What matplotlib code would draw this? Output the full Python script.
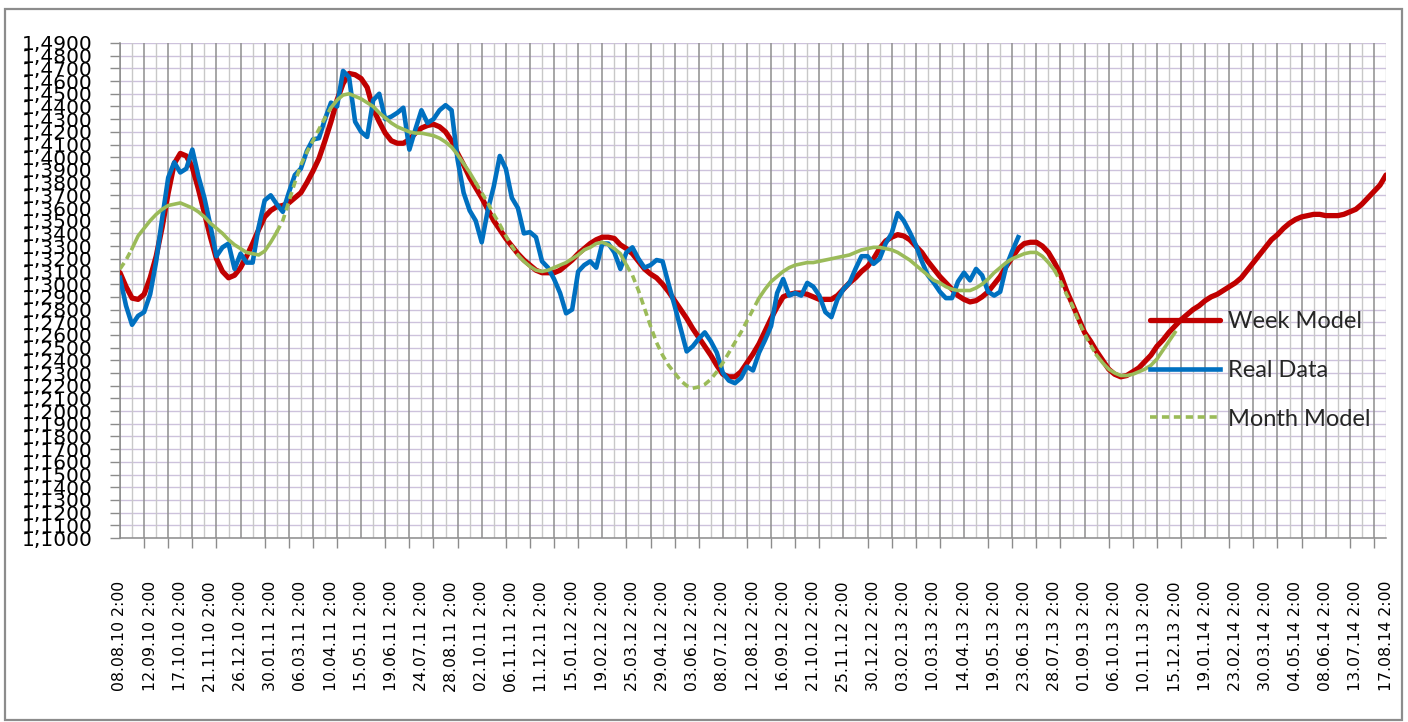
import matplotlib
matplotlib.use("Agg")
import matplotlib.pyplot as plt
from matplotlib.patches import Rectangle
from matplotlib.ticker import FixedLocator, FuncFormatter
import numpy as np
import pandas as pd

# weekly categories: 08.08.10 2:00 ... 17.08.14 2:00
dates = pd.date_range("2010-08-08 02:00", periods=211, freq="7D")

week_model = [
    1.309, 1.298, 1.289, 1.288, 1.292, 1.305, 1.322, 1.345, 1.372, 1.395,
    1.403, 1.401, 1.392, 1.375, 1.356, 1.337, 1.320, 1.310, 1.305, 1.307,
    1.313, 1.322, 1.332, 1.343, 1.353, 1.358, 1.361, 1.362, 1.364, 1.368,
    1.372, 1.380, 1.389, 1.399, 1.413, 1.428, 1.445, 1.458, 1.466, 1.465,
    1.462, 1.455, 1.438, 1.428, 1.419, 1.413, 1.411, 1.411, 1.414, 1.419,
    1.423, 1.425, 1.426, 1.424, 1.420, 1.413, 1.403, 1.394, 1.384, 1.376,
    1.368, 1.359, 1.350, 1.343, 1.336, 1.330, 1.324, 1.319, 1.315, 1.311,
    1.309, 1.309, 1.309, 1.311, 1.315, 1.319, 1.324, 1.328, 1.332, 1.335,
    1.337, 1.337, 1.336, 1.331, 1.328, 1.324, 1.318, 1.312, 1.308, 1.305,
    1.300, 1.294, 1.287, 1.280, 1.273, 1.265, 1.258, 1.251, 1.244, 1.236,
    1.229, 1.227, 1.227, 1.231, 1.238, 1.245, 1.253, 1.263, 1.273, 1.282,
    1.290, 1.292, 1.293, 1.293, 1.292, 1.290, 1.288, 1.288, 1.288, 1.291,
    1.296, 1.301, 1.305, 1.310, 1.314, 1.320, 1.328, 1.334, 1.337, 1.339,
    1.338, 1.335, 1.330, 1.325, 1.318, 1.312, 1.306, 1.301, 1.296, 1.291,
    1.288, 1.286, 1.287, 1.290, 1.294, 1.300, 1.306, 1.314, 1.321, 1.328,
    1.332, 1.333, 1.333, 1.330, 1.325, 1.317, 1.308, 1.295, 1.284, 1.273,
    1.262, 1.255, 1.247, 1.240, 1.233, 1.229, 1.227, 1.228, 1.231, 1.234,
    1.239, 1.244, 1.251, 1.256, 1.262, 1.267, 1.272, 1.276, 1.280, 1.283,
    1.287, 1.290, 1.292, 1.295, 1.298, 1.301, 1.305, 1.311, 1.317, 1.323,
    1.329, 1.335, 1.339, 1.344, 1.348, 1.351, 1.353, 1.354, 1.355, 1.355,
    1.354, 1.354, 1.354, 1.355, 1.357, 1.359, 1.363, 1.368, 1.373, 1.378,
    1.386,
]

real_data = [
    1.305, 1.283, 1.268, 1.275, 1.278, 1.292, 1.318, 1.352, 1.384, 1.396,
    1.388, 1.391, 1.406, 1.385, 1.368, 1.346, 1.322, 1.329, 1.332, 1.312,
    1.324, 1.317, 1.317, 1.345, 1.366, 1.370, 1.363, 1.357, 1.372, 1.386,
    1.391, 1.405, 1.414, 1.415, 1.430, 1.443, 1.440, 1.468, 1.463, 1.428,
    1.420, 1.416, 1.445, 1.450, 1.430, 1.432, 1.435, 1.439, 1.406, 1.422,
    1.437, 1.427, 1.430, 1.437, 1.441, 1.437, 1.398, 1.372, 1.358, 1.350,
    1.333, 1.358, 1.377, 1.401, 1.391, 1.368, 1.360, 1.340, 1.341, 1.337,
    1.318, 1.313, 1.304, 1.293, 1.277, 1.280, 1.310, 1.315, 1.318, 1.313,
    1.332, 1.332, 1.325, 1.312, 1.325, 1.329, 1.320, 1.313, 1.315, 1.319,
    1.318, 1.300, 1.283, 1.265, 1.247, 1.251, 1.257, 1.262, 1.255, 1.246,
    1.230, 1.224, 1.222, 1.226, 1.235, 1.232, 1.246, 1.256, 1.267, 1.293,
    1.304, 1.291, 1.293, 1.291, 1.301, 1.298, 1.291, 1.278, 1.274, 1.288,
    1.296, 1.301, 1.312, 1.322, 1.322, 1.316, 1.320, 1.332, 1.340, 1.356,
    1.350, 1.341, 1.331, 1.318, 1.307, 1.301, 1.294, 1.289, 1.289, 1.302,
    1.309, 1.303, 1.312, 1.307, 1.294, 1.291, 1.294, 1.314, 1.326, 1.337,
]

month_model = [
    1.312, 1.319, 1.328, 1.338, 1.344, 1.350, 1.355, 1.359, 1.362, 1.363,
    1.364, 1.362, 1.360, 1.357, 1.353, 1.348, 1.344, 1.340, 1.335, 1.331,
    1.328, 1.325, 1.324, 1.323, 1.326, 1.333, 1.341, 1.350, 1.365, 1.380,
    1.394, 1.404, 1.413, 1.422, 1.431, 1.439, 1.445, 1.449, 1.450, 1.448,
    1.446, 1.443, 1.440, 1.435, 1.431, 1.427, 1.424, 1.422, 1.420, 1.419,
    1.419, 1.418, 1.417, 1.415, 1.412, 1.408, 1.402, 1.395, 1.388, 1.380,
    1.372, 1.364, 1.355, 1.347, 1.338, 1.330, 1.323, 1.318, 1.314, 1.311,
    1.310, 1.311, 1.313, 1.315, 1.317, 1.320, 1.323, 1.327, 1.329, 1.332,
    1.333, 1.331, 1.328, 1.324, 1.315, 1.307, 1.295, 1.281, 1.267, 1.254,
    1.244, 1.236, 1.230, 1.224, 1.220, 1.218, 1.219, 1.221, 1.225, 1.231,
    1.238, 1.246, 1.254, 1.262, 1.271, 1.280, 1.289, 1.296, 1.302, 1.306,
    1.310, 1.313, 1.315, 1.316, 1.317, 1.317, 1.318, 1.319, 1.320, 1.321,
    1.322, 1.323, 1.325, 1.327, 1.328, 1.329, 1.329, 1.328, 1.327, 1.325,
    1.322, 1.319, 1.315, 1.311, 1.307, 1.303, 1.301, 1.298, 1.296, 1.295,
    1.295, 1.295, 1.297, 1.300, 1.304, 1.309, 1.313, 1.317, 1.320, 1.322,
    1.324, 1.325, 1.325, 1.322, 1.317, 1.311, 1.302, 1.292, 1.283, 1.271,
    1.261, 1.252, 1.244, 1.238, 1.233, 1.230, 1.228, 1.228, 1.229, 1.231,
    1.233, 1.236, 1.241, 1.248, 1.255, 1.262,
]

# stretches of the month model drawn dashed
dashed_parts = [(0, 2), (26, 35), (59, 66), (84, 106), (155, 162)]

labels = [d.strftime("%d.%m.%y ") + f"{d.hour}:{d.minute:02d}" for d in dates]

fig = plt.figure(figsize=(14.08, 7.22), dpi=100)
fig.patches.append(Rectangle((5 / 1408, 2 / 722), 1397 / 1408, 711 / 722,
                             transform=fig.transFigure, fill=False,
                             edgecolor="#8c8c8c", linewidth=1.6))
ax = fig.add_axes([120 / 1408, 184 / 722, 1266 / 1408, 495 / 722])

n = len(dates)
x = np.arange(n)

# grid: lavender horizontals, gray verticals
for v in np.arange(1.10, 1.4901, 0.01):
    ax.axhline(v, color="#cdc2dc", lw=1.0, zorder=0)
for k in range(2, n, 4):
    ax.axvline(k, color="#c8c8c8", lw=1.0, zorder=0)
for k in range(0, n, 4):
    ax.axvline(k, color="#8e8e8e", lw=1.1, zorder=0)

ax.plot(x, week_model, color="#c00000", lw=3.8, label="Week Model",
        solid_capstyle="round", solid_joinstyle="round", zorder=3)
ax.plot(np.arange(len(real_data)), real_data, color="#0070c0", lw=3.3,
        label="Real Data", solid_joinstyle="round", zorder=4)

mm = np.array(month_model)
xm = np.arange(len(mm))
solid = mm.copy()
for a, b in dashed_parts:
    solid[a + 1:b] = np.nan
ax.plot(xm, solid, color="#9bbb59", lw=2.6, zorder=5,
        solid_joinstyle="round")
first = True
for a, b in dashed_parts:
    ax.plot(xm[a:b + 1], mm[a:b + 1], color="#9bbb59", lw=2.6,
            dashes=(2.0, 1.3), zorder=5,
            label="Month Model" if first else None)
    first = False

ax.set_xlim(0, n - 1)
ax.set_ylim(1.10, 1.49)

for s in ["top", "right"]:
    ax.spines[s].set_visible(False)
for s in ["left", "bottom"]:
    ax.spines[s].set_color("#8c8c8c")
    ax.spines[s].set_linewidth(1.1)

ax.yaxis.set_major_locator(FixedLocator(np.round(np.arange(1.10, 1.4901, 0.01), 2)))
ax.yaxis.set_major_formatter(FuncFormatter(lambda v, p: f"{v:.4f}".replace(".", ",")))
ax.tick_params(axis="y", length=7, width=1.0, color="#8c8c8c", pad=13,
               labelsize=14.5, labelcolor="black")

# tick marks every 4 weeks, labels every 5 weeks
ax.set_xticks(x[::5])
ax.set_xticklabels(labels[::5], rotation=90, fontsize=11.3)
ax.tick_params(axis="x", which="major", length=0, pad=31)
ax.xaxis.set_minor_locator(FixedLocator(x[::4]))
ax.tick_params(axis="x", which="minor", length=7, width=1.0, color="#8c8c8c")

leg = ax.legend(loc="upper left", bbox_to_anchor=(1129 / 1408, 432 / 722),
                bbox_transform=fig.transFigure, frameon=False,
                handlelength=2.95, handletextpad=0.35, labelspacing=1.17,
                prop={"family": "Lato", "size": 17})
for t in leg.get_texts():
    t.set_color("#262626")

fig.savefig("out.png", dpi=100)
